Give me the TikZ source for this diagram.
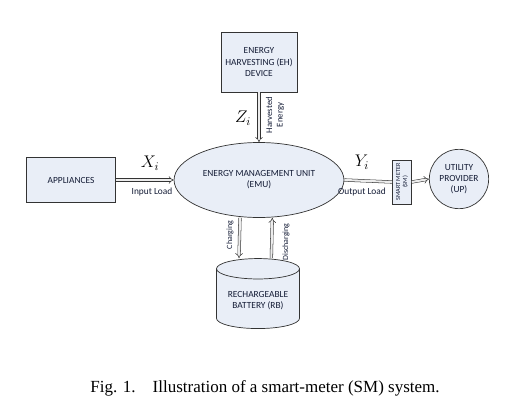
\documentclass[tikz,border=0pt]{standalone}
\usepackage{fontspec}
\setmainfont{Liberation Serif}
\newfontfamily\diagfont{Carlito}
\usetikzlibrary{arrows.meta,shapes.geometric}

\definecolor{boxfill}{HTML}{E9EEF7}
\definecolor{boxtext}{HTML}{141C36}
\definecolor{linegray}{HTML}{333333}

\begin{document}
\begin{tikzpicture}[x=0.03cm,y=0.03cm,
  every node/.style={font=\diagfont\fontsize{8}{9.5}\selectfont, text=boxtext, align=center},
  unit/.style={draw=linegray, fill=boxfill, line width=0.6pt},
  flow/.style={draw=linegray, line width=0.45pt, double=gray!15, double distance=1.8pt},
  flowtip/.style={flow, -{Implies}},
  tag/.style={font=\diagfont\fontsize{6.8}{7.8}\selectfont, rotate=90},
  var/.style={font=\Large, text=black}]
  \useasboundingbox (0,0) rectangle (520,408);

  % Blocks
  \node[unit, minimum width=2.28cm, minimum height=1.8cm] (eh) at (259,346) {ENERGY\\HARVESTING (EH)\\DEVICE};
  \node[unit, minimum width=2.67cm, minimum height=1.35cm] (app) at (71,228) {APPLIANCES};
  \node[unit, ellipse, minimum width=4.32cm, minimum height=2.25cm] (emu) at (259,228) {ENERGY MANAGEMENT UNIT\\(EMU)};
  \node[unit, minimum width=0.57cm, minimum height=1.32cm, inner sep=0pt] (sm) at (402,226) {};
  \node[tag, font=\diagfont\fontsize{5.3}{6}\selectfont] (smtext) at (sm) {SMART METER\\(SM)};
  \node[unit, circle, minimum size=1.78cm, inner sep=0pt] (up) at (459,229) {UTILITY\\PROVIDER\\(UP)};
  \node[unit, cylinder, shape border rotate=90, aspect=0.3, minimum width=2.49cm, minimum height=2.1cm] (bat) at (258,107) {RECHARGEABLE\\BATTERY (RB)};

  % Flows
  \draw[flowtip] (eh.south) -- (emu.north);
  \draw[flowtip] (app.east) -- (emu.west);
  \draw[flow] (emu.east) -- (sm.west);
  \draw[flowtip] (sm.east) -- (up.west);
  \draw[flowtip] ([xshift=-0.57cm]emu.south) -- ([xshift=-0.57cm]bat.north);
  \draw[flowtip] ([xshift=0.4cm]bat.north) -- ([xshift=0.4cm]emu.south);

  % Labels
  \node[var] (zi) at (243,290) {$Z_i$};
  \node[tag, font=\diagfont\fontsize{7.5}{9}\selectfont] (harv) at (275,293) {Harvested\\Energy};
  \node[var] (xi) at (150,245) {$X_i$};
  \node (inload) at (152,216) {Input Load};
  \node[var] (yi) at (362,246) {$Y_i$};
  \node (outload) at (362,216) {Output Load};
  \node[tag] (chg) at (230,173) {Charging};
  \node[tag] (dchg) at (286,166) {Discharging};

  % Caption
  \node[font=\rmfamily\fontsize{14.5}{16}\selectfont, text=black] (cap) at (265,20) {Fig. 1.\quad Illustration of a smart-meter (SM) system.};
\end{tikzpicture}
\end{document}
